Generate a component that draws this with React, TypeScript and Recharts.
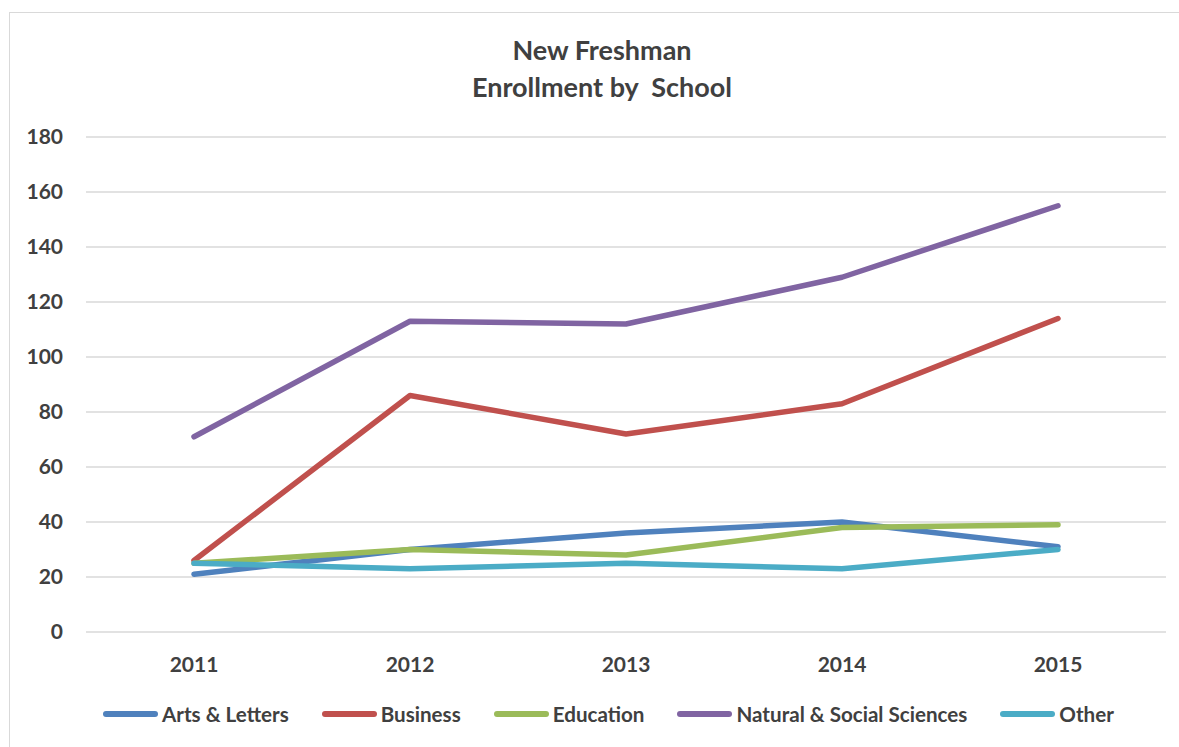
import React from "react";
import { LineChart, Line, XAxis, YAxis, CartesianGrid, Legend } from "recharts";

const years = ["2011", "2012", "2013", "2014", "2015"];
const artsLetters = [21, 30, 36, 40, 31];
const business = [26, 86, 72, 83, 114];
const education = [25, 30, 28, 38, 39];
const naturalSocial = [71, 113, 112, 129, 155];
const other = [25, 23, 25, 23, 30];
const yTicks = [0, 20, 40, 60, 80, 100, 120, 140, 160, 180];

const series = [
  { key: "arts", name: "Arts & Letters", color: "#4F81BD", values: artsLetters },
  { key: "business", name: "Business", color: "#C0504D", values: business },
  { key: "education", name: "Education", color: "#9BBB59", values: education },
  { key: "natural", name: "Natural & Social Sciences", color: "#8064A2", values: naturalSocial },
  { key: "other", name: "Other", color: "#4BACC6", values: other },
];

const data = years.map((year, i) => {
  const row: Record<string, string | number> = { year };
  series.forEach((s) => {
    row[s.key] = s.values[i];
  });
  return row;
});

const FONT = "Lato, 'Open Sans', sans-serif";
const TEXT = "#404040";

const LegendContent = () => (
  <div style={{ display: "flex", alignItems: "center", height: 22, fontFamily: FONT, fontWeight: 700, fontSize: 20.6, color: TEXT, whiteSpace: "nowrap" }}>
    {series.map((s, i) => (
      <div key={s.key} style={{ display: "flex", alignItems: "center", marginLeft: i === 0 ? 0 : 33 }}>
        <div style={{ width: 55, height: 5.5, borderRadius: 3, background: s.color, marginRight: 4 }} />
        <span>{s.name}</span>
      </div>
    ))}
  </div>
);

export default function App() {
  return (
    <div style={{ position: "absolute", left: 0, top: 0, width: 1179, height: 747, background: "#fff", overflow: "hidden" }}>
      <div style={{ position: "absolute", left: 9, top: 12, width: 1200, height: 760, border: "1.5px solid #d9d9d9" }} />
      <div
        style={{
          position: "absolute",
          left: 302,
          width: 600,
          top: 31,
          textAlign: "center",
          fontFamily: FONT,
          fontWeight: 700,
          fontSize: 27,
          lineHeight: "37px",
          color: TEXT,
          whiteSpace: "pre",
        }}
      >
        {"New Freshman\nEnrollment by  School"}
      </div>
      <div style={{ position: "absolute", left: 0, top: 0 }}>
        <LineChart width={1179} height={747} data={data} margin={{ top: 137, right: 13, bottom: 33, left: 0 }}>
          <CartesianGrid vertical={false} stroke="#d9d9d9" strokeWidth={1.5} />
          <XAxis
            dataKey="year"
            axisLine={false}
            tickLine={false}
            tickSize={0}
            tickMargin={25}
            height={60}
            padding={{ left: 108, right: 108 }}
            tick={{ fill: TEXT, fontFamily: FONT, fontWeight: 700, fontSize: 21 }}
          />
          <YAxis
            domain={[0, 180]}
            ticks={yTicks}
            axisLine={false}
            tickLine={false}
            tickSize={0}
            tickMargin={23}
            width={86}
            tick={{ fill: TEXT, fontFamily: FONT, fontWeight: 700, fontSize: 21 }}
          />
          <Legend
            content={<LegendContent />}
            wrapperStyle={{ position: "absolute", left: 103, top: 703, width: "auto", height: 22 }}
          />
          {series.map((s) => (
            <Line
              key={s.key}
              type="linear"
              dataKey={s.key}
              name={s.name}
              stroke={s.color}
              strokeWidth={5.5}
              strokeLinecap="round"
              strokeLinejoin="round"
              dot={false}
              activeDot={false}
              isAnimationActive={false}
            />
          ))}
        </LineChart>
      </div>
    </div>
  );
}
